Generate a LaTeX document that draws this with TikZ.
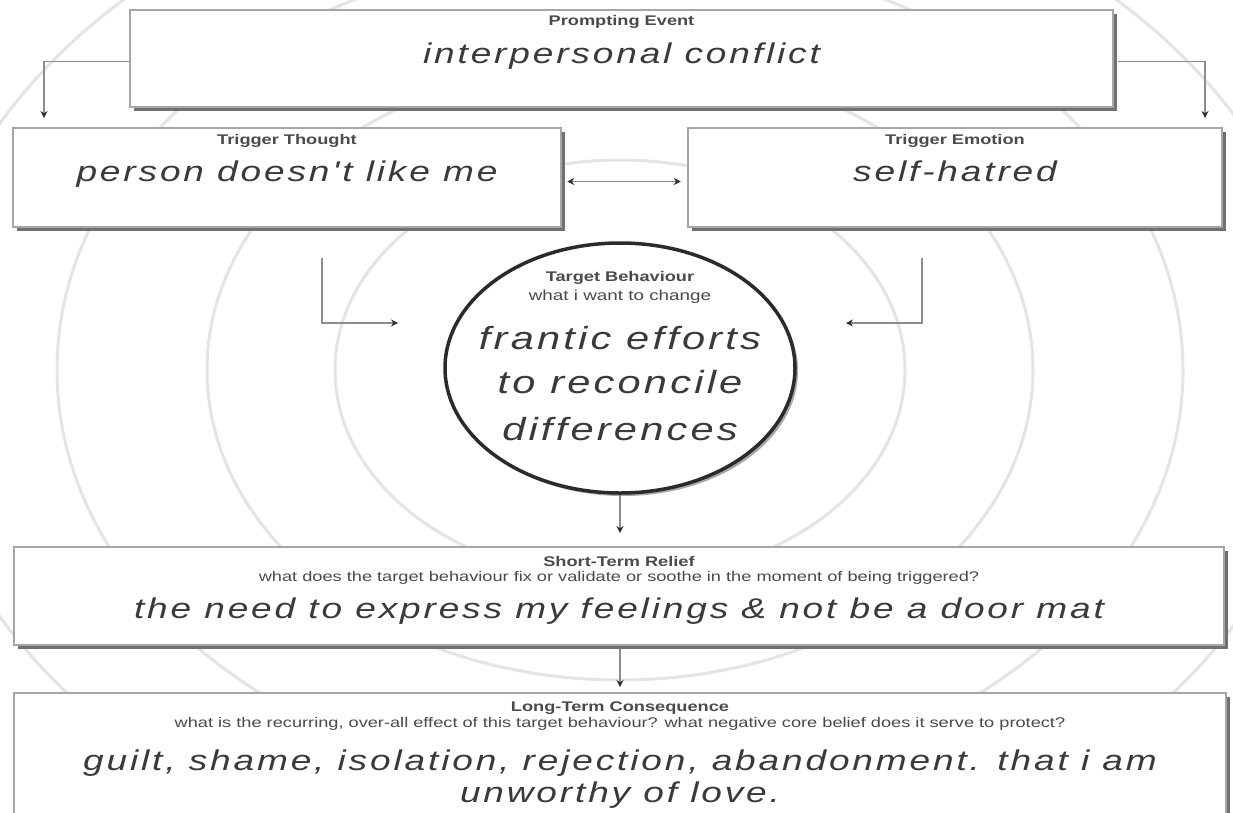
\documentclass[tikz,border=0pt]{standalone}
\usepackage{fontspec}
\usetikzlibrary{arrows.meta,shapes.geometric,shadows}
\newfontfamily\handfont[FakeStretch=1.3,LetterSpace=10]{Liberation Sans}
\newfontfamily\labfont[FakeStretch=1.3]{Liberation Sans}
\definecolor{ringgray}{HTML}{E4E4E4}
\definecolor{cardline}{HTML}{A6A6A6}
\definecolor{cardshadow}{HTML}{707070}
\definecolor{linegray}{HTML}{8C8C8C}
\definecolor{tipdark}{HTML}{2E2E2E}
\definecolor{inkgray}{HTML}{3A3A3A}
\definecolor{labgray}{HTML}{4A4A4A}
\definecolor{circline}{HTML}{2B2B2B}
\definecolor{circshadow}{HTML}{A8A8A8}
\begin{document}
\begin{tikzpicture}[x=1pt,y=-1pt,
  ringline/.style={draw=ringgray,line width=3pt},
  card/.style={rectangle,draw=cardline,line width=2.5pt,fill=white,inner sep=0pt,
    drop shadow={shadow xshift=3.5pt,shadow yshift=-3.5pt,fill=cardshadow,opacity=1}},
  titlelab/.style={font=\labfont\bfseries\fontsize{14}{16}\selectfont,text=labgray,inner sep=0pt},
  sublab/.style={font=\labfont\fontsize{14}{16}\selectfont,text=labgray,inner sep=0pt},
  hand/.style={font=\handfont\itshape\fontsize{28.5}{32}\selectfont,text=inkgray,inner sep=0pt,anchor=base},
  bighand/.style={hand,font=\handfont\itshape\fontsize{32}{36}\selectfont},
  conn/.style={draw=linegray,line width=1.6pt,->},
  >={Stealth[length=7pt,width=7pt,color=tipdark]}
]
\clip (0,0) rectangle (1233,812);
\fill[white] (0,0) rectangle (1233,812);

% background rings
\draw[ringline] (620,370) ellipse [x radius=285pt,y radius=210pt];
\draw[ringline] (620,370) ellipse [x radius=413pt,y radius=310pt];
\draw[ringline] (620,370) ellipse [x radius=563pt,y radius=420pt];
\draw[ringline] (620,370) ellipse [x radius=703pt,y radius=523pt];

% boxes
\node[card,minimum width=983pt,minimum height=97pt] (pe) at (621.5,58.5) {};
\node[card,minimum width=548pt,minimum height=99pt] (tt) at (287,177.5) {};
\node[card,minimum width=534pt,minimum height=99pt] (te) at (955,177.5) {};
\node[ellipse,draw=circline,line width=3.5pt,fill=white,inner sep=0pt,
      minimum width=350pt,minimum height=250pt,
      drop shadow={shadow xshift=3pt,shadow yshift=-3pt,fill=circshadow,opacity=1}] (tb) at (620,368) {};
\node[card,minimum width=1210pt,minimum height=98pt] (sb) at (619,596) {};
\node[card,minimum width=1212pt,minimum height=130pt] (lb) at (620,758) {};

% connectors
\coordinate (ptl) at (44,118);
\coordinate (ptr) at (1205,118);
\draw[conn] ([yshift=-3pt]pe.west) -| (ptl);
\draw[conn] ([xshift=4pt,yshift=-3pt]pe.east) -| (ptr);
\draw[draw=linegray,line width=1.6pt,<->,shorten <=5pt,shorten >=6pt] ([yshift=-4pt]tt.east) -- ([yshift=-4pt]te.west);
\coordinate (ltop) at (322,258);
\coordinate (ltip) at (398,323);
\coordinate (rtop) at (922,258);
\coordinate (rtip) at (846,323);
\draw[conn] (ltop) |- (ltip);
\draw[conn] (rtop) |- (rtip);
\coordinate (ctip) at (620,533);
\draw[conn] (tb.south) -- (ctip);
\coordinate (stip) at (620,687);
\draw[conn] ([xshift=1pt,yshift=-3pt]sb.south) -- (stip);

% texts
\node[titlelab] (pet) at (621.5,22) {Prompting Event};
\node[hand] (pex) at (621.5,63) {interpersonal conflict};
\node[titlelab] (ttt) at (287,141) {Trigger Thought};
\node[hand] (ttx) at (287,181) {person doesn't like me};
\node[titlelab] (tet) at (955,141) {Trigger Emotion};
\node[hand] (tex) at (955,181) {self-hatred};
\node[titlelab] (tbt) at (620,278) {Target Behaviour};
\node[sublab,font=\labfont\fontsize{14.5}{16}\selectfont] (tbs) at (620,297) {what i want to change};
\node[bighand] (tbx1) at (620,349) {frantic efforts};
\node[bighand] (tbx2) at (620,393) {to reconcile};
\node[bighand] (tbx3) at (620,440) {differences};
\node[titlelab] (sbt) at (619,561) {Short-Term Relief};
\node[sublab] (sbs) at (619,578) {what does the target behaviour fix or validate or soothe in the moment of being triggered?};
\node[hand] (sbx) at (619,618) {the need to express my feelings \& not be a door mat};
\node[titlelab] (lbt) at (620,708) {Long-Term Consequence};
\node[sublab] (lbs) at (620,724) {what is the recurring, over-all effect of this target behaviour? what negative core belief does it serve to protect?};
\node[hand] (lbx1) at (620,770) {guilt, shame, isolation, rejection, abandonment. that i am};
\node[hand] (lbx2) at (620,802) {unworthy of love.};
\end{tikzpicture}
\end{document}
